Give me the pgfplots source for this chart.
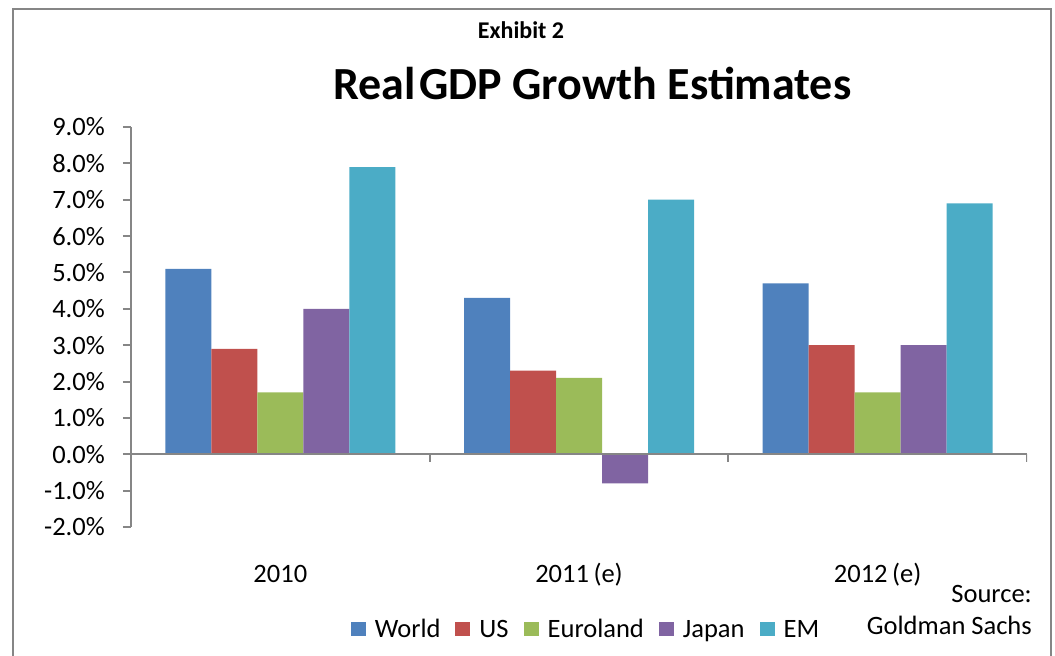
\documentclass[border=0pt]{standalone}
\usepackage{fontspec}
\setmainfont{Carlito}
\usepackage{pgfplots}
\pgfplotsset{compat=1.18}
\definecolor{cWorld}{HTML}{4F81BD}
\definecolor{cUS}{HTML}{C0504D}
\definecolor{cEuro}{HTML}{9BBB59}
\definecolor{cJapan}{HTML}{8064A2}
\definecolor{cEM}{HTML}{4BACC6}
\definecolor{axgray}{HTML}{868686}
\newcommand{\tickfont}{\fontsize{26.5}{30}\selectfont}
\newcommand{\pctlabel}[1]{\pgfmathparse{abs(#1)}\let\absval\pgfmathresult\ifdim #1pt<0pt\relax-\fi\pgfmathprintnumber[fixed,fixed zerofill,precision=1]{\absval}\%}
\begin{document}
\begin{tikzpicture}[x=1pt,y=1pt]
\path[use as bounding box] (0,0) rectangle (1055,656);
\draw[axgray, line width=2pt] (12.5,-5) -- (12.5,647) -- (1051,647) -- (1051,-5);
\node[anchor=base, inner sep=0pt, font=\bfseries\fontsize{24}{28}\selectfont] at (521,617) {Exhibit 2};
\node[anchor=base, inner sep=0pt, font=\bfseries\fontsize{46}{52}\selectfont] at (592.5,556) {Real\hspace{0.074em}GDP Growth Estimates};
\node[anchor=base east, inner sep=0pt, font=\tickfont] at (1032,53) {Source:};
\node[anchor=base east, inner sep=0pt, font=\tickfont] at (1032,21) {Goldman Sachs};
\begin{axis}[
  at={(131pt,129pt)}, anchor=south west,
  scale only axis, width=896pt, height=400pt,
  xmin=-0.5, xmax=2.5, ymin=-2, ymax=9,
  axis lines=left,
  axis line style={-, axgray, line width=2pt},
  x axis line style={draw=none},
  ytick={-2,-1,0,1,2,3,4,5,6,7,8,9},
  xtick={0,1,2},
  xticklabels={2010, 2011\hspace{0.17em}(e), 2012\hspace{0.17em}(e)},
  tick align=outside,
  major tick length=8pt,
  y tick style={axgray, line width=2pt},
  x tick style={draw=none},
  /pgf/number format/assume math mode=true,
  ticklabel style={font=\tickfont},
  yticklabel={\pctlabel{\tick}},
  yticklabel style={anchor=east, inner sep=0pt, xshift=-18pt},
  xticklabel style={anchor=base, inner sep=0pt, yshift=-47pt},
  ybar=0pt, bar width=46pt,
  legend columns=5,
  legend style={at={(0.5067,-0.256)}, anchor=center, draw=none, fill=none,
    font=\tickfont, nodes={inner sep=0pt},
    /tikz/every odd column/.append style={column sep=9pt},
    /tikz/every even column/.append style={column sep=15pt}},
  legend image code/.code={\fill[#1] (0pt,-6.5pt) rectangle (15pt,7pt);},
]
\addplot[fill=cWorld, draw=none] coordinates {(0,5.1) (1,4.3) (2,4.7)};
\addplot[fill=cUS, draw=none] coordinates {(0,2.9) (1,2.3) (2,3.0)};
\addplot[fill=cEuro, draw=none] coordinates {(0,1.7) (1,2.1) (2,1.7)};
\addplot[fill=cJapan, draw=none] coordinates {(0,4.0) (1,-0.8) (2,3.0)};
\addplot[fill=cEM, draw=none] coordinates {(0,7.9) (1,7.0) (2,6.9)};
\legend{World, US, Euroland, Japan, EM}
\draw[axgray, line width=2pt] (axis cs:-0.5,0) -- (axis cs:2.5,0);
\draw[axgray, line width=2pt] (axis cs:0.5,0) -- ([yshift=-8pt]axis cs:0.5,0);
\draw[axgray, line width=2pt] (axis cs:1.5,0) -- ([yshift=-8pt]axis cs:1.5,0);
\draw[axgray, line width=2pt] (axis cs:2.5,0) -- ([yshift=-8pt]axis cs:2.5,0);
\end{axis}
\end{tikzpicture}
\end{document}
